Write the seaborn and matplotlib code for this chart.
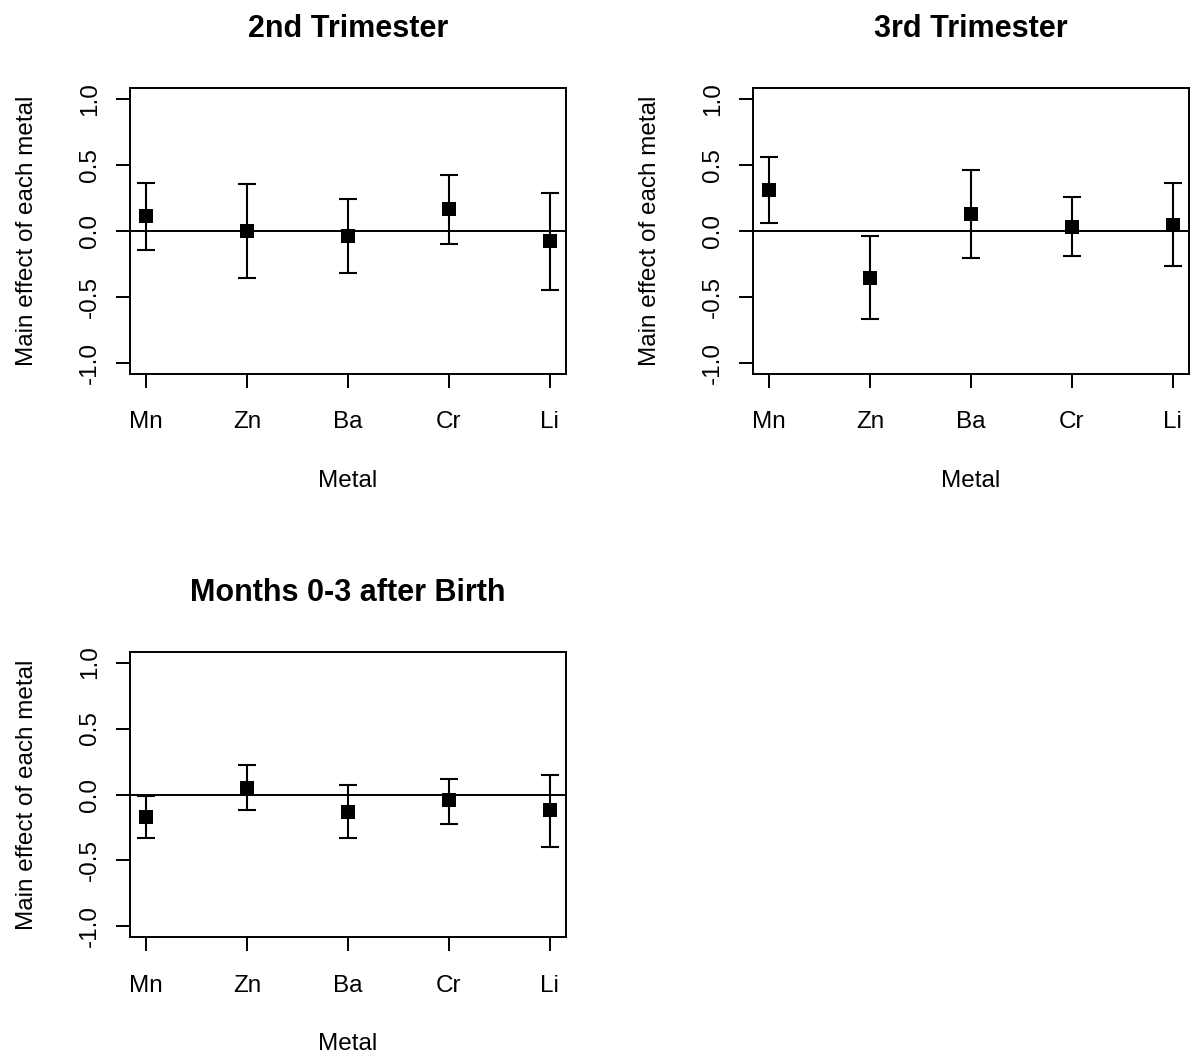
import numpy as np
import pandas as pd
import matplotlib
matplotlib.use("Agg")
import matplotlib.pyplot as plt
import seaborn as sns

# Metals on the x axis
metals = ["Mn", "Zn", "Ba", "Cr", "Li"]

# Main effect estimates with lower / upper interval bounds per exposure window
t2_est = [0.113, -0.002, -0.040, 0.166, -0.078]
t2_lo = [-0.141, -0.358, -0.317, -0.096, -0.443]
t2_hi = [0.360, 0.355, 0.239, 0.421, 0.285]

t3_est = [0.307, -0.358, 0.126, 0.030, 0.048]
t3_lo = [0.060, -0.667, -0.207, -0.191, -0.264]
t3_hi = [0.562, -0.038, 0.461, 0.254, 0.363]

pn_est = [-0.169, 0.051, -0.131, -0.045, -0.121]
pn_lo = [-0.333, -0.114, -0.326, -0.220, -0.396]
pn_hi = [-0.008, 0.220, 0.071, 0.121, 0.149]

titles = ["2nd Trimester", "3rd Trimester", "Months 0-3 after Birth"]
y_ticks = [-1.0, -0.5, 0.0, 0.5, 1.0]
y_tick_labels = ["-1.0", "-0.5", "0.0", "0.5", "1.0"]

sns.set_theme(style="white")
plt.rcParams["font.family"] = ["Liberation Sans", "DejaVu Sans"]
plt.rcParams.update({
    "text.color": "black",
    "axes.labelcolor": "black",
    "xtick.color": "black",
    "ytick.color": "black",
})

W, H = 1190, 1055
fig = plt.figure(figsize=(W / 100, H / 100), dpi=100)


def px_axes(left, top, right, bottom):
    return fig.add_axes([left / W, 1 - bottom / H, (right - left) / W, (bottom - top) / H])


axes = [
    px_axes(130, 88, 566, 374),
    px_axes(753, 88, 1189, 374),
    px_axes(130, 652, 566, 937),
]

panels = [
    (t2_est, t2_lo, t2_hi),
    (t3_est, t3_lo, t3_hi),
    (pn_est, pn_lo, pn_hi),
]

for ax, title, (est, lo, hi) in zip(axes, titles, panels):
    df = pd.DataFrame({"metal": metals, "pos": np.arange(len(metals)),
                       "est": est, "lo": lo, "hi": hi})
    est_a = df["est"].to_numpy()
    yerr = np.vstack([est_a - df["lo"].to_numpy(), df["hi"].to_numpy() - est_a])

    ax.axhline(0, color="black", lw=1.4, zorder=1)
    ax.errorbar(df["pos"], df["est"], yerr=yerr, fmt="none", ecolor="black",
                elinewidth=1.5, capsize=6.8, capthick=1.5, zorder=2)
    sns.scatterplot(data=df, x="pos", y="est", marker="s", s=90, color="black",
                    edgecolor="black", linewidth=0, ax=ax, zorder=3)

    ax.set_xlim(-0.16, 4.16)
    ax.set_ylim(-1.08, 1.08)
    ax.set_xticks(df["pos"])
    ax.set_xticklabels(metals, fontsize=17.5)
    ax.set_yticks(y_ticks)
    ax.set_yticklabels(y_tick_labels, fontsize=17.5, rotation=90, va="center")
    ax.tick_params(axis="both", direction="out", length=10, width=1.4,
                   color="black", labelcolor="black", bottom=True, left=True)
    ax.tick_params(axis="x", pad=17)
    ax.tick_params(axis="y", pad=11)
    for sp in ax.spines.values():
        sp.set_visible(True)
        sp.set_color("black")
        sp.set_linewidth(1.4)

    ax.set_xlabel("Metal", fontsize=17.5, va="center")
    ax.xaxis.set_label_coords(0.5, -(481 - 374) / 286)
    ax.set_ylabel("Main effect of each metal", fontsize=17.5, va="center")
    ax.yaxis.set_label_coords(-(130 - 27) / 436, 0.5)
    ax.text(0.5, 1 + 59 / 286, title, transform=ax.transAxes, fontsize=22,
            fontweight="bold", ha="center", va="center", color="black")
    ax.grid(False)

fig.savefig("out.png", dpi=100, facecolor="white")
